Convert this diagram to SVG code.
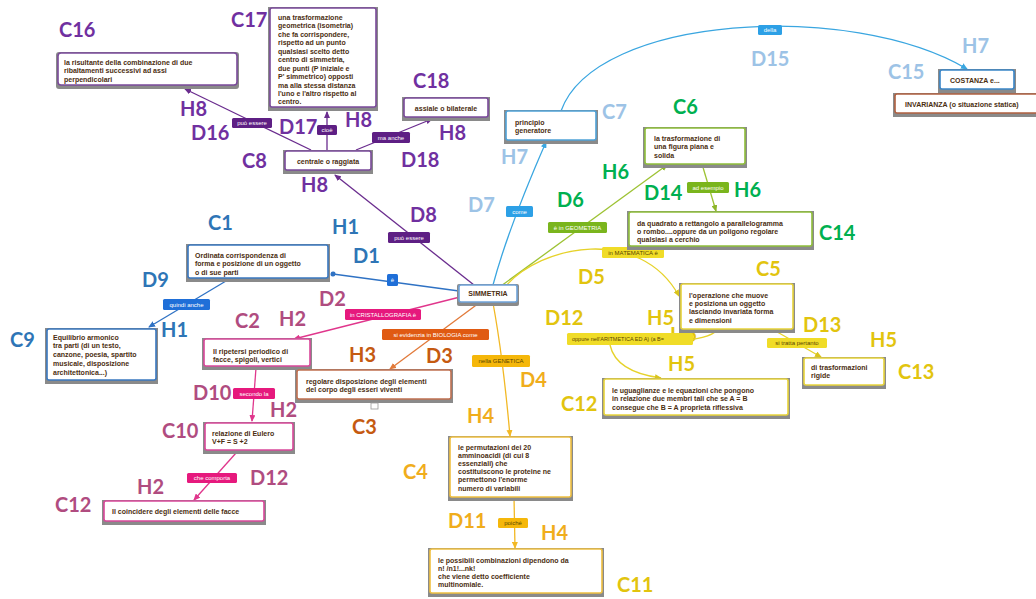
<svg xmlns="http://www.w3.org/2000/svg" width="1036" height="599" viewBox="0 0 1036 599">
<style>
  .sh{fill:#8a8a8a}
  .bx{fill:#fff;stroke-width:1.6}
  .t{font-family:"Liberation Sans",Arial,sans-serif;font-weight:bold;font-size:7px;fill:#4b2e10}
  .code{font-family:Lato,"Liberation Sans",Arial,sans-serif;font-weight:bold;font-size:20px}
  .ct{font-family:"Liberation Sans",Arial,sans-serif;font-size:6px;fill:#fff;text-anchor:middle}
  .ctd{font-family:"Liberation Sans",Arial,sans-serif;font-size:6px;fill:#5a4600;text-anchor:middle}
  .ln{fill:none;stroke-width:1.3}
  .pu{stroke:#6a2c8e}.bl{stroke:#2f72c4}.pk{stroke:#e0368c}.or{stroke:#e27a3a}
  .go{stroke:#f2b824}.ye{stroke:#e6d22a}.gr{stroke:#9dc233}.lb{stroke:#3aa6e0}
  .cPu{fill:#7030a0}.cBl{fill:#2e75b6}.cPk{fill:#b04c80}.cOr{fill:#c55a11}
  .cGo{fill:#f0ad1c}.cYe{fill:#e2c40e}.cGr{fill:#00b050}.cLb{fill:#9dc3e6}
</style>
<defs>
  <marker id="aPu" markerWidth="7" markerHeight="6" refX="6" refY="3" orient="auto" markerUnits="userSpaceOnUse"><path d="M0,0 L7,3 L0,6 Z" fill="#6a2c8e"/></marker>
  <marker id="aBl" markerWidth="7" markerHeight="6" refX="6" refY="3" orient="auto" markerUnits="userSpaceOnUse"><path d="M0,0 L7,3 L0,6 Z" fill="#2f72c4"/></marker>
  <marker id="dBl" markerWidth="6" markerHeight="6" refX="3" refY="3" orient="auto" markerUnits="userSpaceOnUse"><circle cx="3" cy="3" r="2.5" fill="#2f72c4"/></marker>
  <marker id="aPk" markerWidth="7" markerHeight="6" refX="6" refY="3" orient="auto" markerUnits="userSpaceOnUse"><path d="M0,0 L7,3 L0,6 Z" fill="#e0368c"/></marker>
  <marker id="aOr" markerWidth="7" markerHeight="6" refX="6" refY="3" orient="auto" markerUnits="userSpaceOnUse"><path d="M0,0 L7,3 L0,6 Z" fill="#e27a3a"/></marker>
  <marker id="aGo" markerWidth="7" markerHeight="6" refX="6" refY="3" orient="auto" markerUnits="userSpaceOnUse"><path d="M0,0 L7,3 L0,6 Z" fill="#f2b824"/></marker>
  <marker id="aYe" markerWidth="7" markerHeight="6" refX="6" refY="3" orient="auto" markerUnits="userSpaceOnUse"><path d="M0,0 L7,3 L0,6 Z" fill="#d9c41c"/></marker>
  <marker id="aGr" markerWidth="7" markerHeight="6" refX="6" refY="3" orient="auto" markerUnits="userSpaceOnUse"><path d="M0,0 L7,3 L0,6 Z" fill="#8db52a"/></marker>
  <marker id="aLb" markerWidth="7" markerHeight="6" refX="6" refY="3" orient="auto" markerUnits="userSpaceOnUse"><path d="M0,0 L7,3 L0,6 Z" fill="#3aa6e0"/></marker>
</defs>

<rect width="1036" height="599" fill="#fff"/>

<!-- half-hidden code sitting under the C5 box -->
<text class="code cYe" x="670" y="342">H5</text>

<!-- connectors with their link chips -->
<g id="connectors">
  <path class="ln pu" d="M474,285 L335,175" marker-end="url(#aPu)"/>
  <path class="ln pu" d="M311,150 L185,89" marker-end="url(#aPu)"/>
  <path class="ln pu" d="M327,150 L327,112" marker-end="url(#aPu)"/>
  <path class="ln pu" d="M356,150 L432,119" marker-end="url(#aPu)"/>
  <path class="ln bl" d="M459,291 L333,274" marker-end="url(#dBl)"/>
  <path class="ln bl" d="M226,281 L149,327" marker-end="url(#aBl)"/>
  <path class="ln pk" d="M460,297 L294,339" marker-end="url(#aPk)"/>
  <path class="ln pk" d="M256,368 L252,421" marker-end="url(#aPk)"/>
  <path class="ln pk" d="M236,453 L194,500" marker-end="url(#aPk)"/>
  <path class="ln or" d="M479,303 L390,369" marker-end="url(#aOr)"/>
  <path class="ln go" d="M493,303 C498,330 505,380 510,436" marker-end="url(#aGo)"/>
  <path class="ln go" d="M514,497 L515,548" marker-end="url(#aGo)"/>
  <path class="ln lb" d="M493,285 C505,240 525,190 546,142" marker-end="url(#aLb)"/>
  <path class="ln lb" d="M561,111 C595,15 850,0 967,69" marker-end="url(#aLb)"/>
  <path class="ln gr" d="M501,286 L667,165" marker-end="url(#aGr)"/>
  <path class="ln gr" d="M702,164 L716,211" marker-end="url(#aGr)"/>
  <path class="ln ye" d="M505,287 C540,245 640,225 679,296" marker-end="url(#aYe)"/>
  <path class="ln ye" d="M719,329 Q706,342 665,340"/>
  <path class="ln ye" d="M610,345 Q616,372 661,378" marker-end="url(#aYe)"/>
  <path class="ln ye" d="M772,329 L821,357" marker-end="url(#aYe)"/>

  <rect x="232" y="118" width="40" height="10" rx="1.5" fill="#5e1f84"/><text class="ct" x="252" y="125">può essere</text>
  <rect x="317" y="125" width="20" height="10" rx="1.5" fill="#5e1f84"/><text class="ct" x="327" y="132">cioè</text>
  <rect x="372" y="132" width="38" height="11" rx="1.5" fill="#5e1f84"/><text class="ct" x="391" y="140">ma anche</text>
  <rect x="388" y="232" width="42" height="11" rx="1.5" fill="#5e1f84"/><text class="ct" x="409" y="240">può essere</text>
  <rect x="387" y="274" width="11" height="12" rx="1.5" fill="#1f6fd8"/><text class="ct" x="392.5" y="282">è</text>
  <rect x="163" y="299" width="47" height="11" rx="1.5" fill="#1f6fd8"/><text class="ct" x="186.5" y="307">quindi anche</text>
  <rect x="345" y="309" width="76" height="11" rx="1.5" fill="#e6197d"/><text class="ct" x="383" y="317">in CRISTALLOGRAFIA è</text>
  <rect x="382" y="329" width="107" height="11" rx="1.5" fill="#e05a12"/><text class="ct" x="435.5" y="337">si evidenzia in BIOLOGIA come</text>
  <rect x="472" y="355" width="58" height="12" rx="1.5" fill="#f5b70a"/><text class="ctd" x="501" y="363">nella GENETICA</text>
  <rect x="498" y="518" width="30" height="10" rx="1.5" fill="#f5b70a"/><text class="ctd" x="513" y="525">poiché</text>
  <rect x="233" y="388" width="42" height="11" rx="1.5" fill="#e6197d"/><text class="ct" x="254" y="396">secondo la</text>
  <rect x="187" y="473" width="50" height="10" rx="1.5" fill="#e6197d"/><text class="ct" x="212" y="480">che comporta</text>
  <rect x="506" y="206" width="27" height="11" rx="1.5" fill="#2da0e6"/><text class="ct" x="519.5" y="214">come</text>
  <rect x="548" y="222" width="59" height="11" rx="1.5" fill="#7ab51d"/><text class="ct" x="577.5" y="230">è in GEOMETRIA</text>
  <rect x="602" y="247" width="62" height="11" rx="1.5" fill="#f0dc28"/><text class="ctd" x="633" y="255">in MATEMATICA è</text>
  <rect x="687" y="182" width="42" height="11" rx="1.5" fill="#7ab51d"/><text class="ct" x="708" y="190">ad esempio</text>
  <rect x="567" y="333" width="126" height="12" rx="1.5" fill="#f0dc28"/><text class="ctd" x="572" y="341" style="text-anchor:start;font-size:5.5px">oppure nell'ARITMETICA ED A) (a B=</text>
  <rect x="767" y="338" width="60" height="10" rx="1.5" fill="#f0dc28"/><text class="ctd" x="797" y="345">si tratta pertanto</text>
  <rect x="758" y="25" width="24" height="10" rx="1.5" fill="#2da0e6"/><text class="ct" x="770" y="32">della</text>
</g>

<!-- concept boxes -->
<g id="simmetria">
  <rect class="sh" x="457" y="284" width="62" height="22" rx="2"/>
  <rect class="bx" x="459" y="285" width="58" height="17" rx="2" stroke="#6fa3d9"/>
  <text class="t" x="488" y="296" text-anchor="middle">SIMMETRIA</text>
</g>
<g id="c1">
  <rect class="sh" x="186" y="244" width="144" height="38"/>
  <rect class="bx" x="188" y="245" width="140" height="33" rx="2" stroke="#3a78c0"/>
  <text class="t" x="195" y="257.5">Ordinata corrispondenza di</text>
  <text class="t" x="195" y="266">forma e posizione di un oggetto</text>
  <text class="t" x="195" y="274.5">o di sue parti</text>
</g>
<g id="c9">
  <rect class="sh" x="45" y="328" width="113" height="56"/>
  <rect class="bx" x="47" y="329" width="109" height="51" rx="2" stroke="#3a78c0"/>
  <text class="t" x="53" y="339.5">Equilibrio armonico</text>
  <text class="t" x="53" y="348">tra parti (di un testo,</text>
  <text class="t" x="53" y="356.5">canzone, poesia, spartito</text>
  <text class="t" x="53" y="365.5">musicale, disposizione</text>
  <text class="t" x="53" y="374.5">architettonica...)</text>
</g>
<g id="c2">
  <rect class="sh" x="202" y="338" width="110" height="32"/>
  <rect class="bx" x="204" y="339" width="106" height="27" rx="2" stroke="#d9489a"/>
  <text class="t" x="213" y="353.5">Il ripetersi periodico di</text>
  <text class="t" x="213" y="361.5">facce, spigoli, vertici</text>
</g>
<g id="c3">
  <rect class="sh" x="295" y="369" width="158" height="34"/>
  <rect class="bx" x="297" y="370" width="154" height="29" rx="2" stroke="#c07050"/>
  <text class="t" x="306" y="383.5">regolare disposizione degli elementi</text>
  <text class="t" x="306" y="391.5">del corpo degli esseri viventi</text>
  <rect x="371" y="403" width="7" height="6" fill="#fff" stroke="#999" stroke-width="0.8"/>
</g>
<g id="c10">
  <rect class="sh" x="203" y="422" width="92" height="32"/>
  <rect class="bx" x="205" y="423" width="88" height="27" rx="2" stroke="#d9489a"/>
  <text class="t" x="212" y="435.5">relazione di Eulero</text>
  <text class="t" x="212" y="443.5">V+F = S +2</text>
</g>
<g id="c12-facce">
  <rect class="sh" x="102" y="500" width="164" height="25"/>
  <rect class="bx" x="104" y="501" width="160" height="20" rx="2" stroke="#d9489a"/>
  <text class="t" x="112" y="513.5">Il coincidere degli elementi delle facce</text>
</g>
<g id="c8">
  <rect class="sh" x="283" y="150" width="90" height="24"/>
  <rect class="bx" x="285" y="151" width="86" height="19" rx="2" stroke="#7a4a9a"/>
  <text class="t" x="328" y="163.5" text-anchor="middle">centrale o raggiata</text>
</g>
<g id="c16">
  <rect class="sh" x="56" y="52" width="183" height="37" rx="3"/>
  <rect class="bx" x="58" y="53" width="179" height="32" rx="3" stroke="#7a4a9a"/>
  <text class="t" x="64" y="64.5">la risultante della combinazione di due</text>
  <text class="t" x="64" y="73">ribaltamenti successivi ad assi</text>
  <text class="t" x="64" y="81.5">perpendicolari</text>
</g>
<g id="c17">
  <rect class="sh" x="268" y="7" width="110" height="104"/>
  <rect class="bx" x="270" y="8" width="106" height="99" rx="2" stroke="#7a4a9a"/>
  <text class="t" x="278" y="19.5">una trasformazione</text>
  <text class="t" x="278" y="28">geometrica (isometria)</text>
  <text class="t" x="278" y="36.5">che fa corrispondere,</text>
  <text class="t" x="278" y="45">rispetto ad un punto</text>
  <text class="t" x="278" y="53.5">qualsiasi scelto detto</text>
  <text class="t" x="278" y="62">centro di simmetria,</text>
  <text class="t" x="278" y="70.5">due punti (P iniziale e</text>
  <text class="t" x="278" y="79">P' simmetrico) opposti</text>
  <text class="t" x="278" y="87.5">ma alla stessa distanza</text>
  <text class="t" x="278" y="96">l'uno e l'altro rispetto al</text>
  <text class="t" x="278" y="104">centro.</text>
</g>
<g id="c18">
  <rect class="sh" x="402" y="97" width="88" height="24"/>
  <rect class="bx" x="404" y="98" width="84" height="19" rx="2" stroke="#7a4a9a"/>
  <text class="t" x="446" y="110.5" text-anchor="middle">assiale o bilaterale</text>
</g>
<g id="c7">
  <rect class="sh" x="504" y="110" width="94" height="34"/>
  <rect class="bx" x="506" y="111" width="90" height="29" rx="2" stroke="#4fa2d8"/>
  <text class="t" x="515" y="124.5">principio</text>
  <text class="t" x="515" y="133">generatore</text>
</g>
<g id="invarianza">
  <rect class="sh" x="893" y="93" width="150" height="24"/>
  <rect class="bx" x="895" y="94" width="146" height="19" rx="2" stroke="#b06040"/>
  <text class="t" x="905" y="106.5">INVARIANZA (o situazione statica)</text>
</g>
<g id="c15">
  <rect class="sh" x="938" y="69" width="78" height="24"/>
  <rect class="bx" x="940" y="70" width="74" height="19" rx="2" stroke="#3a86c8"/>
  <text class="t" x="950" y="83">COSTANZA e...</text>
</g>
<g id="c6">
  <rect class="sh" x="643" y="127" width="104" height="41"/>
  <rect class="bx" x="645" y="128" width="100" height="36" rx="2" stroke="#8fbf3a"/>
  <text class="t" x="654" y="140.5">la trasformazione di</text>
  <text class="t" x="654" y="149">una figura piana e</text>
  <text class="t" x="654" y="157.5">solida</text>
</g>
<g id="c14">
  <rect class="sh" x="627" y="211" width="187" height="39"/>
  <rect class="bx" x="629" y="212" width="183" height="34" rx="2" stroke="#8fbf3a"/>
  <text class="t" x="637" y="225.5">da quadrato a rettangolo a parallelogramma</text>
  <text class="t" x="637" y="233.5">o rombo....oppure da un poligono regolare</text>
  <text class="t" x="637" y="241.5">qualsiasi a cerchio</text>
</g>
<g id="c5">
  <rect class="sh" x="679" y="283" width="116" height="50"/>
  <rect class="bx" x="681" y="284" width="112" height="45" rx="2" stroke="#e8d43a"/>
  <text class="t" x="689" y="297.5">l'operazione che muove</text>
  <text class="t" x="689" y="305.5">e posiziona un oggetto</text>
  <text class="t" x="689" y="314">lasciando invariata forma</text>
  <text class="t" x="689" y="322.5">e dimensioni</text>
</g>
<g id="c13">
  <rect class="sh" x="802" y="357" width="84" height="32"/>
  <rect class="bx" x="804" y="358" width="80" height="27" rx="2" stroke="#e8d43a"/>
  <text class="t" x="811" y="369.5">di trasformazioni</text>
  <text class="t" x="811" y="378">rigide</text>
</g>
<g id="c12-aritmetica">
  <rect class="sh" x="602" y="378" width="188" height="41"/>
  <rect class="bx" x="604" y="379" width="184" height="36" rx="2" stroke="#e8d43a"/>
  <text class="t" x="612" y="393">le uguaglianze e le equazioni che pongono</text>
  <text class="t" x="612" y="401">in relazione due membri tali che se A = B</text>
  <text class="t" x="612" y="409.5">consegue che B = A proprietà riflessiva</text>
</g>
<g id="c4">
  <rect class="sh" x="448" y="436" width="125" height="65"/>
  <rect class="bx" x="450" y="437" width="121" height="60" rx="2" stroke="#f0c040"/>
  <text class="t" x="458" y="449.5">le permutazioni dei 20</text>
  <text class="t" x="458" y="457.5">amminoacidi (di cui 8</text>
  <text class="t" x="458" y="465.5">essenziali) che</text>
  <text class="t" x="458" y="474">costituiscono le proteine ne</text>
  <text class="t" x="458" y="482">permettono l'enorme</text>
  <text class="t" x="458" y="490.5">numero di variabili</text>
</g>
<g id="c11">
  <rect class="sh" x="428" y="548" width="176" height="49"/>
  <rect class="bx" x="430" y="549" width="172" height="44" rx="2" stroke="#f0c040"/>
  <text class="t" x="438" y="562.5">le possibili combinazioni  dipendono da</text>
  <text class="t" x="438" y="570.5">n! /n1!...nk!</text>
  <text class="t" x="438" y="578.5">che viene detto coefficiente</text>
  <text class="t" x="438" y="586.5">multinomiale.</text>
</g>

<!-- reference codes for concepts (C), links (D) and arrowheads (H) -->
<g id="codes" class="code">
  <text class="cPu" x="59" y="37">C16</text>
  <text class="cPu" x="231" y="27">C17</text>
  <text class="cPu" x="413" y="88">C18</text>
  <text class="cPu" x="180" y="116">H8</text>
  <text class="cPu" x="191" y="140">D16</text>
  <text class="cPu" x="279" y="134">D17</text>
  <text class="cPu" x="345" y="127">H8</text>
  <text class="cPu" x="439" y="140">H8</text>
  <text class="cPu" x="401" y="167">D18</text>
  <text class="cPu" x="242" y="168">C8</text>
  <text class="cPu" x="301" y="192">H8</text>
  <text class="cPu" x="410" y="222">D8</text>

  <text class="cBl" x="208" y="230">C1</text>
  <text class="cBl" x="332" y="234">H1</text>
  <text class="cBl" x="353" y="263">D1</text>
  <text class="cBl" x="142" y="287">D9</text>
  <text class="cBl" x="10" y="347">C9</text>
  <text class="cBl" x="161" y="337">H1</text>

  <text class="cPk" x="319" y="306">D2</text>
  <text class="cPk" x="235" y="328">C2</text>
  <text class="cPk" x="279" y="326">H2</text>
  <text class="cPk" x="193" y="400">D10</text>
  <text class="cPk" x="270" y="417">H2</text>
  <text class="cPk" x="162" y="438">C10</text>
  <text class="cPk" x="250" y="485">D12</text>
  <text class="cPk" x="137" y="494">H2</text>
  <text class="cPk" x="55" y="512">C12</text>

  <text class="cOr" x="349" y="362">H3</text>
  <text class="cOr" x="426" y="363">D3</text>
  <text class="cOr" x="352" y="434">C3</text>

  <text class="cGo" x="520" y="387">D4</text>
  <text class="cGo" x="467" y="423">H4</text>
  <text class="cGo" x="403" y="479">C4</text>
  <text class="cGo" x="448" y="528">D11</text>
  <text class="cGo" x="541" y="540">H4</text>
  <text class="cYe" x="617" y="592">C11</text>

  <text class="cYe" x="578" y="284">D5</text>
  <text class="cYe" x="756" y="276">C5</text>
  <text class="cYe" x="545" y="325">D12</text>
  <text class="cYe" x="647" y="325">H5</text>
  <text class="cYe" x="803" y="332">D13</text>
  <text class="cYe" x="870" y="347">H5</text>
  <text class="cYe" x="668" y="371">H5</text>
  <text class="cYe" x="898" y="379">C13</text>
  <text class="cYe" x="561" y="411">C12</text>

  <text class="cGr" x="673" y="114">C6</text>
  <text class="cGr" x="602" y="179">H6</text>
  <text class="cGr" x="644" y="200">D14</text>
  <text class="cGr" x="734" y="197">H6</text>
  <text class="cGr" x="819" y="240">C14</text>
  <text class="cGr" x="557" y="207">D6</text>

  <text class="cLb" x="602" y="119">C7</text>
  <text class="cLb" x="501" y="164">H7</text>
  <text class="cLb" x="468" y="212">D7</text>
  <text class="cLb" x="751" y="66">D15</text>
  <text class="cLb" x="962" y="53">H7</text>
  <text class="cLb" x="888" y="79">C15</text>
</g>
</svg>
